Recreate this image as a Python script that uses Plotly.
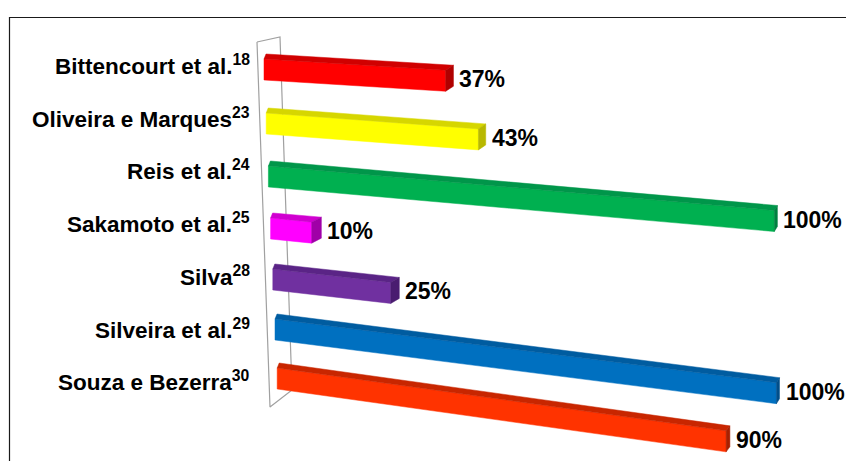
import plotly.graph_objects as go

# ---- data ----
categories = ["Bittencourt et al.", "Oliveira e Marques", "Reis et al.",
              "Sakamoto et al.", "Silva", "Silveira et al.", "Souza e Bezerra"]
refs = ["18", "23", "24", "25", "28", "29", "30"]
values = [37, 43, 100, 10, 25, 100, 90]

# ---- styles ----
front_colors = ["#FF0000", "#FFFF00", "#00B050", "#FF00FF", "#7030A0", "#0070C0", "#FF3300"]
top_colors = ["#D00000", "#D6D600", "#00964A", "#D000D0", "#5A2486", "#005CA0", "#C82600"]
end_colors = ["#B00000", "#B8B800", "#008040", "#A000A8", "#4A1C70", "#004E8A", "#A82000"]

W, H = 846, 461
FONT = "Liberation Sans, Arial, sans-serif"
BAR_H = 21      # front face height (px)
DEPTH_Y = 5     # top face depth (px)


def row_geom(i):
    """Perspective projection parameters of row i (pseudo-3D layout)."""
    x0 = 264 + 2.2 * i
    yt = 59 + 54.5 * i - 0.5 * i * i
    slope = 0.062 + 0.013 * i
    scale = 5.12 - 0.015 * i
    return x0, yt, slope, scale


def wall_x(y, outer=True):
    if outer:
        return 257 + (270 - 257) * (y - 42) / (407 - 42)
    return 280 + (292 - 280) * (y - 37) / (390 - 37)


fig = go.Figure()

# back wall (thin grey outline)
wx = [wall_x(42), wall_x(37, False), wall_x(390, False), wall_x(407), wall_x(42)]
wy = [42, 37, 390, 407, 42]
fig.add_trace(go.Scatter(x=wx, y=wy, mode="lines", line=dict(color="#A0A0A0", width=1.2),
                         hoverinfo="skip", showlegend=False))

annotations = []
for i, (cat, ref, v) in enumerate(zip(categories, refs, values)):
    x0, yt, slope, scale = row_geom(i)
    x_end = x0 + v * scale
    w = max(3.0, 10 - 0.0145 * (x_end - 300))
    xf = x_end - w
    ytf = yt + slope * (xf - x0)
    ybf = ytf + BAR_H
    yb0 = yt + BAR_H

    # front face
    fig.add_trace(go.Scatter(
        x=[x0, xf, xf, x0, x0], y=[yt, ytf, ybf, yb0, yt],
        mode="lines", fill="toself", fillcolor=front_colors[i],
        line=dict(color=front_colors[i], width=0.5),
        hoverinfo="skip", showlegend=False))
    # top face
    fig.add_trace(go.Scatter(
        x=[x0, x0 + 2, x_end, xf, x0], y=[yt, yt - DEPTH_Y, ytf - DEPTH_Y, ytf, yt],
        mode="lines", fill="toself", fillcolor=top_colors[i],
        line=dict(color=top_colors[i], width=0.5),
        hoverinfo="skip", showlegend=False))
    # end face
    fig.add_trace(go.Scatter(
        x=[xf, x_end, x_end, xf, xf], y=[ytf, ytf - DEPTH_Y, ybf - DEPTH_Y, ybf, ytf],
        mode="lines", fill="toself", fillcolor=end_colors[i],
        line=dict(color=end_colors[i], width=0.5),
        hoverinfo="skip", showlegend=False))

    # value label
    annotations.append(dict(
        x=x_end + 4, y=(ytf - DEPTH_Y + ybf) / 2 + 1, xref="x", yref="y",
        text=f"<b>{v}%</b>", showarrow=False, xanchor="left", yanchor="middle",
        font=dict(family=FONT, size=23, color="#000000")))

    # category label
    annotations.append(dict(
        x=252, y=65 + 52.7 * i, xref="x", yref="y",
        text=f"<b>{cat}<sup>{ref}</sup></b>", showarrow=False,
        xanchor="right", yanchor="middle",
        font=dict(family=FONT, size=22.5, color="#000000")))

fig.update_layout(
    width=W, height=H, autosize=False,
    margin=dict(l=0, r=0, t=0, b=0),
    paper_bgcolor="white", plot_bgcolor="white",
    xaxis=dict(range=[0, W], visible=False, fixedrange=True),
    yaxis=dict(range=[H, 0], visible=False, fixedrange=True),
    annotations=annotations,
    shapes=[dict(type="rect", xref="x", yref="y", x0=9.5, y0=17.5, x1=W + 10, y1=H + 10,
                 line=dict(color="#1A1A1A", width=1.2), fillcolor="rgba(0,0,0,0)",
                 layer="below")],
)

fig.write_html("out.html")
